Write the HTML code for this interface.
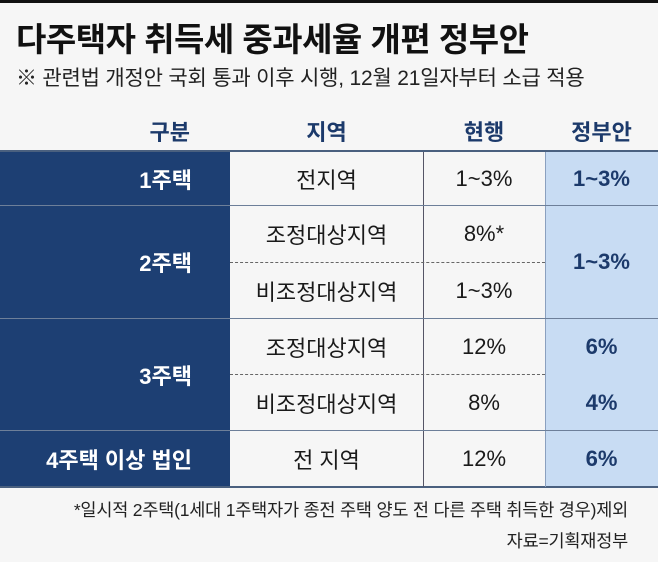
<!DOCTYPE html>
<html><head><meta charset="utf-8">
<style>
*{margin:0;padding:0;box-sizing:border-box}
body{width:658px;height:562px;background:#f6f6f6;font-family:"Liberation Sans","Noto Sans CJK KR",sans-serif;position:relative;overflow:hidden}
.a{position:absolute}
.c{position:absolute;display:flex;align-items:center;justify-content:center;font-size:22px;color:#1a1a1a}
.h{font-weight:bold;color:#1c3a6b;font-size:22px}
.n{color:#fff;font-weight:bold;justify-content:flex-end;padding-right:38px}
.b{color:#1c3a6b;font-weight:bold}
</style></head><body>
<div class="a" style="left:0;top:0;width:658px;height:3px;background:#111"></div>
<div class="a" style="left:16px;top:13px;font-size:33px;font-weight:bold;color:#111;letter-spacing:-0.5px">다주택자 취득세 중과세율 개편 정부안</div>
<div class="a" style="left:16px;top:62px;font-size:21px;color:#222;letter-spacing:-0.2px">※ 관련법 개정안 국회 통과 이후 시행, 12월 21일자부터 소급 적용</div>

<div class="c h" style="left:0;top:112px;width:230px;height:38px;justify-content:flex-end;padding-right:40px">구분</div>
<div class="c h" style="left:230px;top:112px;width:193px;height:38px">지역</div>
<div class="c h" style="left:423px;top:112px;width:122px;height:38px">현행</div>
<div class="c h" style="left:545px;top:112px;width:113px;height:38px">정부안</div>

<div class="a" style="left:0;top:152px;width:230px;height:335px;background:#1d3f73"></div>
<div class="a" style="left:545px;top:152px;width:113px;height:335px;background:#c8dcf3"></div>
<div class="a" style="left:0;top:150px;width:658px;height:2px;background:#4a607f"></div>
<div class="a" style="left:0;top:486px;width:658px;height:2px;background:#4a607f"></div>
<div class="a" style="left:423px;top:152px;width:1px;height:335px;background:#556"></div>
<div class="a" style="left:545px;top:152px;width:1px;height:335px;background:#8aa0bf"></div>
<div class="a" style="left:0;top:205px;width:658px;height:1px;background:#6d7f99"></div>
<div class="a" style="left:0;top:318px;width:658px;height:1px;background:#6d7f99"></div>
<div class="a" style="left:0;top:430px;width:658px;height:1px;background:#6d7f99"></div>
<div class="a" style="left:230px;top:262px;width:315px;border-top:1px dashed #666"></div>
<div class="a" style="left:230px;top:374px;width:315px;border-top:1px dashed #666"></div>

<div class="c n" style="left:0;top:152px;width:230px;height:53px">1주택</div>
<div class="c n" style="left:0;top:206px;width:230px;height:112px">2주택</div>
<div class="c n" style="left:0;top:319px;width:230px;height:111px">3주택</div>
<div class="c n" style="left:0;top:431px;width:230px;height:55px;padding-right:38px">4주택 이상 법인</div>

<div class="c" style="left:230px;top:152px;width:193px;height:53px">전지역</div>
<div class="c" style="left:230px;top:206px;width:193px;height:56px">조정대상지역</div>
<div class="c" style="left:230px;top:263px;width:193px;height:55px">비조정대상지역</div>
<div class="c" style="left:230px;top:319px;width:193px;height:55px">조정대상지역</div>
<div class="c" style="left:230px;top:375px;width:193px;height:55px">비조정대상지역</div>
<div class="c" style="left:230px;top:431px;width:193px;height:55px">전 지역</div>

<div class="c" style="left:423px;top:152px;width:122px;height:53px">1~3%</div>
<div class="c" style="left:423px;top:206px;width:122px;height:56px">8%*</div>
<div class="c" style="left:423px;top:263px;width:122px;height:55px">1~3%</div>
<div class="c" style="left:423px;top:319px;width:122px;height:55px">12%</div>
<div class="c" style="left:423px;top:375px;width:122px;height:55px">8%</div>
<div class="c" style="left:423px;top:431px;width:122px;height:55px">12%</div>

<div class="c b" style="left:545px;top:152px;width:113px;height:53px">1~3%</div>
<div class="c b" style="left:545px;top:206px;width:113px;height:112px">1~3%</div>
<div class="c b" style="left:545px;top:319px;width:113px;height:55px">6%</div>
<div class="c b" style="left:545px;top:375px;width:113px;height:55px">4%</div>
<div class="c b" style="left:545px;top:431px;width:113px;height:55px">6%</div>

<div class="a" style="right:30px;top:497px;font-size:17.5px;color:#222;letter-spacing:-0.2px;white-space:nowrap">*일시적 2주택(1세대 1주택자가 종전 주택 양도 전 다른 주택 취득한 경우)제외</div>
<div class="a" style="right:30px;top:528px;font-size:17.5px;color:#222;letter-spacing:-0.2px">자료=기획재정부</div>
</body></html>
